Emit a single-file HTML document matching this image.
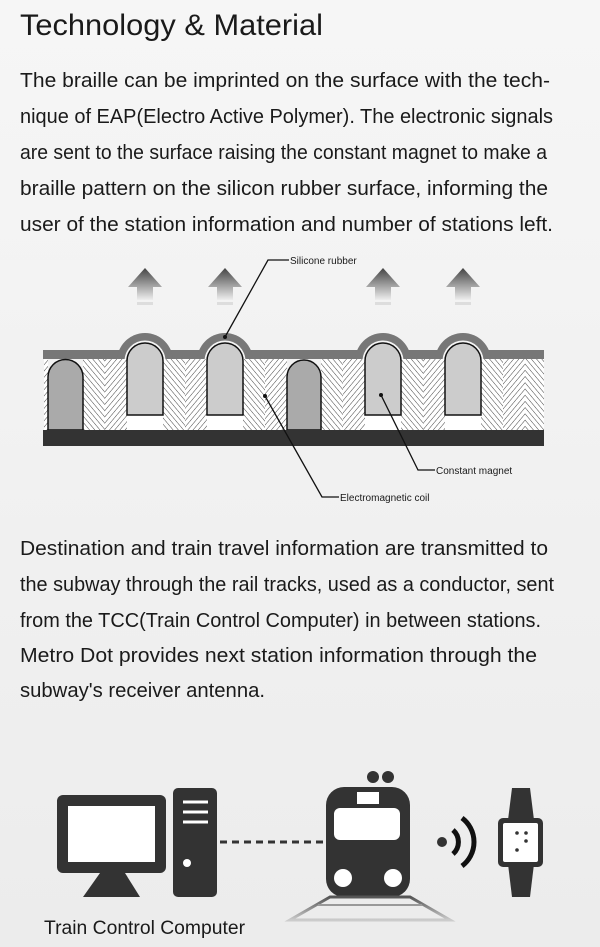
<!DOCTYPE html>
<html><head><meta charset="utf-8"><style>
html,body{margin:0;padding:0;}
body{width:600px;height:947px;overflow:hidden;background:linear-gradient(#f6f6f6,#ececec);}
svg{display:block}
text{font-family:"Liberation Sans",sans-serif;fill:#1a1a1a}
</style></head><body>
<svg width="600" height="947" viewBox="0 0 600 947" xmlns="http://www.w3.org/2000/svg">
<defs>
<pattern id="h1" width="4" height="4" patternUnits="userSpaceOnUse" patternTransform="rotate(40)"><rect width="4" height="4" fill="#fff"/><line x1="0" y1="0" x2="0" y2="4" stroke="#444" stroke-width="1"/></pattern>
<pattern id="h2" width="4" height="4" patternUnits="userSpaceOnUse" patternTransform="rotate(-40)"><rect width="4" height="4" fill="#fff"/><line x1="0" y1="0" x2="0" y2="4" stroke="#444" stroke-width="1"/></pattern>
<linearGradient id="ag" x1="0" y1="0" x2="0" y2="1"><stop offset="0" stop-color="#444"/><stop offset="1" stop-color="#eee"/></linearGradient>
<linearGradient id="tr" x1="0" y1="0" x2="0" y2="1"><stop offset="0" stop-color="#555"/><stop offset="1" stop-color="#ccc"/></linearGradient>
<clipPath id="top"><rect x="0" y="0" width="600" height="359"/></clipPath>
</defs>
<text x="20" y="35" font-size="30" textLength="303" lengthAdjust="spacingAndGlyphs">Technology &amp; Material</text>
<g font-size="20">
<text x="20" y="87" textLength="530" lengthAdjust="spacingAndGlyphs">The braille can be imprinted on the surface with the tech-</text>
<text x="20" y="123" textLength="533" lengthAdjust="spacingAndGlyphs">nique of EAP(Electro Active Polymer). The electronic signals</text>
<text x="20" y="159" textLength="527" lengthAdjust="spacingAndGlyphs">are sent to the surface raising the constant magnet to make a</text>
<text x="20" y="195" textLength="528" lengthAdjust="spacingAndGlyphs">braille pattern on the silicon rubber surface, informing the</text>
<text x="20" y="231" textLength="533" lengthAdjust="spacingAndGlyphs">user of the station information and number of stations left.</text>
<text x="20" y="555" textLength="528" lengthAdjust="spacingAndGlyphs">Destination and train travel information are transmitted to</text>
<text x="20" y="591" textLength="534" lengthAdjust="spacingAndGlyphs">the subway through the rail tracks, used as a conductor, sent</text>
<text x="20" y="627" textLength="521" lengthAdjust="spacingAndGlyphs">from the TCC(Train Control Computer) in between stations.</text>
<text x="20" y="662" textLength="517" lengthAdjust="spacingAndGlyphs">Metro Dot provides next station information through the</text>
<text x="20" y="697" textLength="245" lengthAdjust="spacingAndGlyphs">subway's receiver antenna.</text>
</g>
<!-- diagram -->
<g>
<g>
<rect x="83" y="359" width="22" height="71" fill="url(#h2)"/><rect x="105" y="359" width="22" height="71" fill="url(#h1)"/>
<rect x="163" y="359" width="22" height="71" fill="url(#h2)"/><rect x="185" y="359" width="22" height="71" fill="url(#h1)"/>
<rect x="243" y="359" width="22" height="71" fill="url(#h2)"/><rect x="265" y="359" width="22" height="71" fill="url(#h1)"/>
<rect x="321" y="359" width="22" height="71" fill="url(#h2)"/><rect x="343" y="359" width="22" height="71" fill="url(#h1)"/>
<rect x="401" y="359" width="22" height="71" fill="url(#h2)"/><rect x="423" y="359" width="22" height="71" fill="url(#h1)"/>
<rect x="481" y="359" width="22" height="71" fill="url(#h2)"/><rect x="503" y="359" width="22" height="71" fill="url(#h1)"/>
<rect x="525" y="359" width="19" height="71" fill="url(#h2)"/>
<rect x="44" y="359" width="4" height="71" fill="url(#h1)"/>
</g>
<g fill="#fff"><rect x="127" y="415" width="36" height="15"/><rect x="207" y="415" width="36" height="15"/><rect x="365" y="415" width="36" height="15"/><rect x="445" y="415" width="36" height="15"/></g>
<rect x="43" y="350" width="501" height="9" fill="#777"/>
<g clip-path="url(#top)">
<g fill="#777"><circle cx="145" cy="361" r="28"/><circle cx="225" cy="361" r="28"/><circle cx="383" cy="361" r="28"/><circle cx="463" cy="361" r="28"/></g>
<g fill="#f4f4f4"><circle cx="145" cy="361" r="20.5"/><circle cx="225" cy="361" r="20.5"/><circle cx="383" cy="361" r="20.5"/><circle cx="463" cy="361" r="20.5"/></g>
</g>
<g fill="#ccc" stroke="#111" stroke-width="1.5">
<path d="M127 415 V361 A18 18 0 0 1 163 361 V415 Z"/>
<path d="M207 415 V361 A18 18 0 0 1 243 361 V415 Z"/>
<path d="M365 415 V361 A18 18 0 0 1 401 361 V415 Z"/>
<path d="M445 415 V361 A18 18 0 0 1 481 361 V415 Z"/>
</g>
<g fill="#aaa" stroke="#111" stroke-width="1.5">
<path d="M48 430 V377 A17.5 17.5 0 0 1 83 377 V430 Z"/>
<path d="M287 430 V377 A17 17 0 0 1 321 377 V430 Z"/>
</g>
<rect x="43" y="430" width="501" height="16" fill="#333"/>
<g fill="url(#ag)">
<path d="M145 268 L162 287 H153 V300 H137 V287 H128 Z"/>
<path d="M225 268 L242 287 H233 V300 H217 V287 H208 Z"/>
<path d="M383 268 L400 287 H391 V300 H375 V287 H366 Z"/>
<path d="M463 268 L480 287 H471 V300 H455 V287 H446 Z"/>
</g>
<g fill="#ddd"><rect x="137" y="302" width="16" height="3"/><rect x="217" y="302" width="16" height="3"/><rect x="375" y="302" width="16" height="3"/><rect x="455" y="302" width="16" height="3"/></g>
<g stroke="#111" stroke-width="1.3" fill="none">
<polyline points="225,337 268,260 289,260"/>
<polyline points="265,396 322,497 339,497"/>
<polyline points="381,395 418,470 435,470"/>
</g>
<g fill="#111"><circle cx="225" cy="337" r="2"/><circle cx="265" cy="396" r="2"/><circle cx="381" cy="395" r="2"/></g>
<g font-size="10"><text x="290" y="264">Silicone rubber</text><text x="340" y="501">Electromagnetic coil</text><text x="436" y="474">Constant magnet</text></g>
</g>
<!-- bottom icons -->
<g fill="#333">
<rect x="57" y="795" width="109" height="78" rx="6"/>
<path d="M100 873 H125 L140 897 H83 Z"/>
<rect x="173" y="788" width="44" height="109" rx="5"/>
<rect x="326" y="787" width="84" height="110" rx="18"/>
<circle cx="373" cy="777" r="6"/><circle cx="388" cy="777" r="6"/>
<circle cx="442" cy="842" r="5"/>
<path d="M512 788 H530 L534 820 H508 Z"/>
<path d="M508 864 H534 L530 897 H512 Z"/>
<rect x="498" y="818" width="45" height="49" rx="5"/>
</g>
<rect x="68" y="806" width="87" height="56" fill="#fff"/>
<g stroke="#fff" stroke-width="3"><line x1="183" y1="802" x2="208" y2="802"/><line x1="183" y1="812" x2="208" y2="812"/><line x1="183" y1="822" x2="208" y2="822"/></g>
<circle cx="187" cy="863" r="4" fill="#fff"/>
<line x1="220" y1="842" x2="325" y2="842" stroke="#333" stroke-width="3" stroke-dasharray="7,5"/>
<rect x="334" y="808" width="66" height="32" rx="6" fill="#fff"/>
<rect x="357" y="792" width="22" height="12" fill="#fff"/>
<circle cx="343" cy="878" r="9" fill="#fff"/><circle cx="393" cy="878" r="9" fill="#fff"/>
<path d="M330 897 L290 920 H450 L410 897 Z" fill="none" stroke="url(#tr)" stroke-width="3"/>
<line x1="318" y1="905" x2="422" y2="905" stroke="#999" stroke-width="2"/>
<g fill="none" stroke="#111" stroke-width="5">
<path d="M453 830 A16 16 0 0 1 453 854"/>
<path d="M462 818 A30 30 0 0 1 462 866"/>
</g>
<rect x="503" y="823" width="35" height="39" rx="2" fill="#fff"/>
<g fill="#333"><circle cx="517" cy="833" r="1.8"/><circle cx="526" cy="833" r="1.8"/><circle cx="526" cy="841" r="1.8"/><circle cx="517" cy="850" r="1.8"/></g>
<text x="44" y="934" font-size="19" textLength="201" lengthAdjust="spacingAndGlyphs">Train Control Computer</text>
</svg>
</body></html>
